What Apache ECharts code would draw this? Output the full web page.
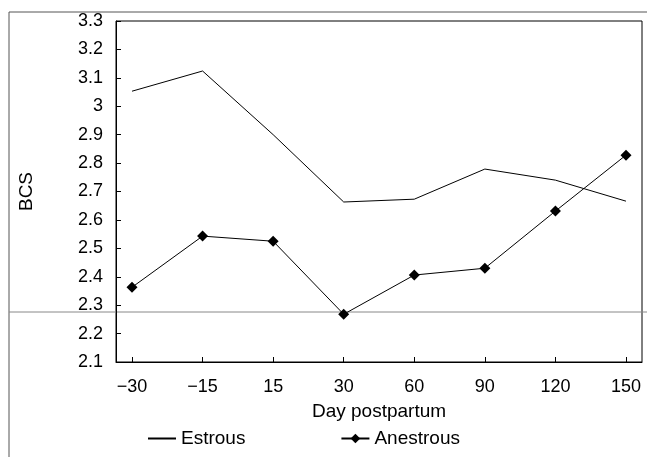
<!DOCTYPE html>
<html>
<head>
<meta charset="utf-8">
<script src="https://cdn.jsdelivr.net/npm/echarts@6/dist/echarts.min.js"></script>
<style>
	html, body { margin: 0; padding: 0; background: #fff; }
	#chart { width: 647px; height: 457px; }
</style>
</head>
<body>
<div id="chart"></div>
<script>
(function() {

	// 数据
	var days = ['\u221230', '\u221215', '15', '30', '60', '90', '120', '150'];
	var estrous = [3.053, 3.124, 2.9, 2.663, 2.673, 2.779, 2.74, 2.666];
	var anestrous = [2.363, 2.543, 2.525, 2.268, 2.406, 2.43, 2.631, 2.828];

	var font = 'Liberation Sans, Arial, sans-serif';
	var idx = days.map(function(d, i) { return i; });

	function pairs(arr) {
		return arr.map(function(v, i) { return [i, v]; });
	}

	var chart = echarts.init(document.getElementById('chart'));

	var option = {
		backgroundColor: '#fff',
		animation: false,
		grid: {
			show: true,
			left: 116,
			top: 21,
			right: 5,
			bottom: 95,
			borderColor: '#000',
			borderWidth: 1,
			backgroundColor: 'transparent',
		},
		legend: {
			left: 142,
			top: 424,
			itemGap: 95,
			itemWidth: 28,
			itemHeight: 12,
			textStyle: { fontFamily: font, fontSize: 19, color: '#000' },
			data: [{
				name: 'Estrous',
				itemStyle: { color: 'rgba(0,0,0,0)', borderWidth: 0 },
			}, {
				name: 'Anestrous',
			}],
		},
		xAxis: {
			type: 'value',
			min: -0.227,
			max: 7.227,
			name: 'Day postpartum',
			nameLocation: 'middle',
			nameGap: 40,
			nameTextStyle: { fontFamily: font, fontSize: 19, color: '#000' },
			axisLine: { onZero: false, lineStyle: { color: '#000' } },
			axisTick: { inside: true, length: 5, customValues: idx, lineStyle: { color: '#000' } },
			axisLabel: {
				customValues: idx,
				margin: 16,
				fontFamily: font,
				fontSize: 18,
				color: '#000',
				formatter: function(v) { return days[Math.round(v)]; },
			},
			splitLine: { show: false },
		},
		yAxis: {
			type: 'value',
			min: 2.1,
			max: 3.3,
			interval: 0.1,
			name: 'BCS',
			nameLocation: 'middle',
			nameGap: 80,
			nameTextStyle: { fontFamily: font, fontSize: 19, color: '#000' },
			axisLine: { show: true, onZero: false, lineStyle: { color: '#000' } },
			axisTick: { inside: true, length: 5, lineStyle: { color: '#000' } },
			axisLabel: {
				margin: 13,
				fontFamily: font,
				fontSize: 18,
				color: '#000',
				formatter: function(v) { return String(Math.round(v * 10) / 10); },
			},
			splitLine: { show: false },
		},
		series: [{
			name: 'Estrous',
			type: 'line',
			data: pairs(estrous),
			symbol: 'none',
			lineStyle: { color: '#000', width: 1 },
			itemStyle: { color: '#000' },
		}, {
			name: 'Anestrous',
			type: 'line',
			data: pairs(anestrous),
			symbol: 'diamond',
			symbolSize: 11,
			lineStyle: { color: '#000', width: 1 },
			itemStyle: { color: '#000' },
		}],
		// 扫描图的外框和灰线
		graphic: [{
			type: 'line',
			shape: { x1: 9, y1: 12, x2: 647, y2: 12 },
			style: { stroke: '#555', lineWidth: 1 },
		}, {
			type: 'line',
			shape: { x1: 9, y1: 12, x2: 9, y2: 457 },
			style: { stroke: '#555', lineWidth: 1 },
		}, {
			type: 'line',
			shape: { x1: 9, y1: 312, x2: 647, y2: 312 },
			style: { stroke: '#888', lineWidth: 1 },
		}],
	};

	chart.setOption(option);

}());
</script>
</body>
</html>
